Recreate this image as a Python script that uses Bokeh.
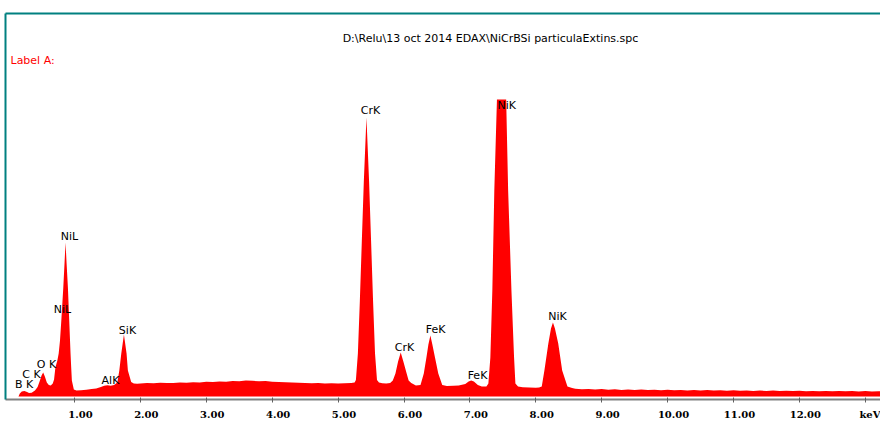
from bokeh.plotting import figure
from bokeh.models import (Range1d, LinearAxis, FixedTicker, Label,
                          ColumnDataSource, CustomJSTickFormatter)
from bokeh.core.properties import value
from bokeh.embed import file_html
from bokeh.resources import INLINE

# ---- spectrum: (energy keV, counts) ----
spectrum_points = [
    (0.15, 0), (0.17, 30), (0.20, 50), (0.24, 55), (0.28, 45), (0.31, 35), (0.35, 38), (0.40, 60),
    (0.44, 95), (0.47, 150), (0.50, 210), (0.525, 240), (0.55, 200), (0.58, 140), (0.61, 115),
    (0.64, 110), (0.67, 130), (0.69, 170), (0.71, 290), (0.74, 360), (0.76, 430), (0.78, 560),
    (0.80, 760), (0.83, 1090), (0.85, 1350), (0.864, 1540), (0.88, 1330), (0.90, 1090), (0.92, 760),
    (0.94, 430), (0.95, 290), (0.96, 160), (0.99, 70), (1.03, 60), (1.10, 62), (1.18, 68),
    (1.26, 74), (1.33, 80), (1.40, 95), (1.45, 108), (1.50, 112), (1.55, 108), (1.60, 115),
    (1.65, 140), (1.68, 260), (1.71, 430), (1.75, 620), (1.79, 430), (1.81, 260), (1.86, 145),
    (1.90, 130), (1.95, 128),
    (2.0, 130), (2.1, 135), (2.2, 132), (2.3, 138), (2.4, 134), (2.5, 136), (2.6, 140), (2.7, 138),
    (2.8, 143), (2.9, 141), (3.0, 147), (3.1, 144), (3.2, 150), (3.3, 148), (3.4, 155), (3.5, 152),
    (3.6, 160), (3.7, 157), (3.8, 152), (3.9, 155), (4.0, 148), (4.1, 146), (4.2, 142), (4.3, 140),
    (4.4, 137), (4.5, 136), (4.6, 133), (4.7, 135), (4.8, 131), (4.9, 133), (5.0, 130), (5.1, 132),
    (5.2, 135),
    (5.25, 140), (5.27, 165), (5.30, 430), (5.33, 960), (5.36, 1560), (5.39, 2150), (5.43, 2790),
    (5.47, 2150), (5.50, 1560), (5.53, 960), (5.56, 430), (5.59, 165), (5.62, 140), (5.67, 132),
    (5.73, 130),
    (5.79, 135), (5.83, 160), (5.87, 230), (5.91, 350), (5.95, 440), (5.99, 350), (6.04, 230),
    (6.07, 160), (6.11, 135), (6.18, 110),
    (6.25, 115), (6.30, 230), (6.34, 390), (6.37, 520), (6.40, 610), (6.43, 520), (6.47, 390),
    (6.52, 230), (6.58, 115), (6.65, 105), (6.75, 108), (6.83, 110),
    (6.93, 125), (6.98, 150), (7.02, 160), (7.06, 150), (7.12, 115), (7.18, 100), (7.25, 100),
    (7.28, 130), (7.31, 390), (7.34, 1060), (7.37, 2060), (7.41, 2970), (7.44, 2970), (7.48, 2970),
    (7.52, 2970), (7.55, 2970), (7.58, 2060), (7.63, 1060), (7.67, 390), (7.69, 130), (7.73, 100),
    (7.80, 92), (7.90, 90), (8.00, 88),
    (8.05, 90), (8.09, 100), (8.13, 260), (8.19, 530), (8.23, 680), (8.26, 740), (8.29, 680),
    (8.34, 530), (8.40, 260), (8.48, 100), (8.55, 85),
    (8.6, 78), (8.7, 72), (8.8, 76), (8.9, 70), (9.0, 74), (9.1, 68), (9.2, 72), (9.3, 66),
    (9.4, 70), (9.5, 65), (9.6, 69), (9.7, 64), (9.8, 68), (9.9, 63), (10.0, 67), (10.1, 62),
    (10.2, 66), (10.3, 61), (10.4, 65), (10.5, 60), (10.6, 64), (10.7, 59), (10.8, 63), (10.9, 58),
    (11.0, 62), (11.1, 57), (11.2, 61), (11.3, 56), (11.4, 60), (11.5, 55), (11.6, 59), (11.7, 55),
    (11.8, 58), (11.9, 54), (12.0, 57), (12.1, 53), (12.2, 56), (12.3, 53), (12.4, 56), (12.5, 52),
    (12.6, 55), (12.7, 52), (12.8, 55), (12.9, 51), (13.0, 54), (13.1, 51), (13.2, 53), (13.3, 52),
]
kev = [e for e, c in spectrum_points]
counts = [c for e, c in spectrum_points]

# ---- peak labels ----
peak_names = ["B K", "C K", "O K", "NiL", "NiL", "AlK", "SiK", "CrK", "NiK", "CrK", "FeK", "FeK", "NiK"]
peak_kev = [0.234, 0.347, 0.575, 0.924, 0.818, 1.546, 1.804, 5.49, 7.56, 6.007, 6.478, 7.115, 8.33]
peak_counts = [120, 220, 320, 1600, 870, 160, 660, 2860, 2910, 490, 670, 210, 800]

# ---- axis ticks ----
tick_kev = [1, 2, 3, 4, 5, 6, 7, 8, 9, 10, 11, 12, 13]
unit_label = "keV"

title_text = "D:\\Relu\\13 oct 2014 EDAX\\NiCrBSi particulaExtins.spc"
label_text = "Label A:"

TEAL = "#008080"
LABEL_SHIFT = 0.09  # tick labels sit slightly right of their tick marks

p = figure(width=880, height=436, output_backend="svg", toolbar_location=None,
           x_range=Range1d(-0.047, 13.23), y_range=Range1d(-30, 3830),
           min_border_left=5, min_border_right=0, min_border_top=13, min_border_bottom=37)
p.grid.visible = False
p.outline_line_color = None
p.background_fill_color = "white"
p.border_fill_color = "white"

xa = p.below[0]
ya = p.left[0]

# left teal frame line (y axis without ticks)
ya.ticker = FixedTicker(ticks=[])
ya.axis_line_color = TEAL
ya.axis_line_width = 2
ya.major_tick_out = 0
ya.major_tick_in = 0
ya.minor_tick_out = 0
ya.minor_tick_in = 0
ya.major_label_standoff = 0

# top teal frame line
top = LinearAxis(ticker=FixedTicker(ticks=[]), axis_line_color=TEAL, axis_line_width=2,
                 major_tick_out=0, major_tick_in=0, minor_tick_out=0, minor_tick_in=0,
                 major_label_standoff=0)
p.add_layout(top, "above")

# bottom energy axis: line + tick marks (drawn as unlabeled minor ticks)
xa.ticker = FixedTicker(ticks=[], minor_ticks=tick_kev)
xa.axis_line_color = "#808080"
xa.axis_line_width = 2
xa.major_tick_line_color = None
xa.major_tick_in = 0
xa.major_tick_out = 0
xa.minor_tick_line_color = "#606060"
xa.minor_tick_line_width = 1
xa.minor_tick_in = 2
xa.minor_tick_out = 3
xa.major_label_standoff = 0

# tick labels on a second, line-less axis just below
lab_axis = LinearAxis(
    ticker=FixedTicker(ticks=[t + LABEL_SHIFT for t in tick_kev]),
    formatter=CustomJSTickFormatter(
        args=dict(shift=LABEL_SHIFT, last=tick_kev[-1], unit=unit_label),
        code="const v = Math.round((tick - shift) * 100) / 100;"
             "return v >= last ? unit : v.toFixed(2);"),
    axis_line_color=None, major_tick_line_color=None, minor_tick_line_color=None,
    major_tick_out=0, major_tick_in=0, minor_tick_out=0, minor_tick_in=0,
    major_label_standoff=6, major_label_text_font="DejaVu Serif",
    major_label_text_font_style="bold", major_label_text_font_size="10px",
    major_label_text_color="black")
p.add_layout(lab_axis, "below")

src = ColumnDataSource(dict(kev=kev, counts=counts))
p.varea(x="kev", y1=0, y2="counts", source=src, fill_color="#FF0000")

lab = ColumnDataSource(dict(x=peak_kev, y=peak_counts, t=peak_names))
p.text(x="x", y="y", text="t", source=lab, text_align="center", text_baseline="middle",
       text_font=value("DejaVu Sans"), text_font_size="11px", text_color="black")

p.add_layout(Label(x=485, y=361, x_units="screen", y_units="screen", text=title_text,
                   text_align="center", text_baseline="middle", text_font="DejaVu Sans",
                   text_font_size="11px", text_color="black"))
p.add_layout(Label(x=5, y=339, x_units="screen", y_units="screen", text=label_text,
                   text_align="left", text_baseline="middle", text_font="DejaVu Sans",
                   text_font_size="11px", text_color="#FF0000"))

open("out.html", "w").write(file_html(p, INLINE))
